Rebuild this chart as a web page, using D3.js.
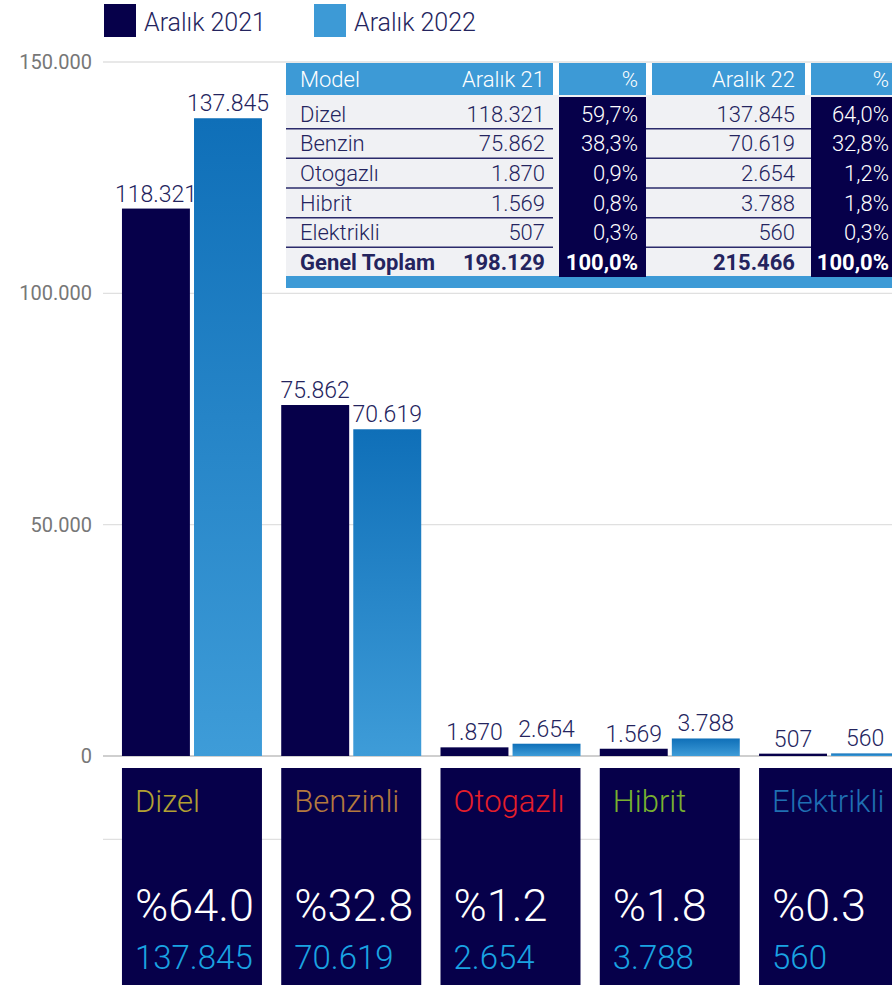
<!DOCTYPE html>
<html>
<head>
<meta charset="utf-8">
<script src="https://cdn.jsdelivr.net/npm/d3@7"></script>
<style>
  body { margin: 0; background: #fff; }
  svg { display: block; font-family: Roboto, "Noto Sans", sans-serif; }
</style>
</head>
<body>
<div id="chart"></div>
<script>
// data
var categories = ["Dizel", "Benzinli", "Otogazlı", "Hibrit", "Elektrikli"];
var tableLabels = ["Dizel", "Benzin", "Otogazlı", "Hibrit", "Elektrikli"];
var seriesNames = ["Aralık 2021", "Aralık 2022"];
var values2021 = [118321, 75862, 1870, 1569, 507];
var values2022 = [137845, 70619, 2654, 3788, 560];
var share2021 = [59.7, 38.3, 0.9, 0.8, 0.3];
var share2022 = [64.0, 32.8, 1.2, 1.8, 0.3];
var totals = [198129, 215466];
var totalShare = [100.0, 100.0];
var tableHeader = ["Model", "Aralık 21", "%", "Aralık 22", "%"];
var totalLabel = "Genel Toplam";
var yTicks = [0, 50000, 100000, 150000];
var catColors = ["#b3a032", "#b47a3e", "#e51f2a", "#79b12f", "#1f6fb2"];

var navy = "#06004a", lightBlue = "#3d9ad6", textNavy = "#24245e";

var W = 892, H = 985;
var svg = d3.select("#chart").append("svg").attr("width", W).attr("height", H);

var tr = d3.formatLocale({decimal: ",", thousands: ".", grouping: [3], currency: ["", ""]});
var fmtNum = tr.format(",d");
var fmtPct = tr.format(".1f");

// scales
var y = d3.scaleLinear().domain([0, 150000]).range([756, 62]);
var x0 = d3.scaleBand().domain(categories).range([112.4, 908.6]).paddingInner(0.121).paddingOuter(0.06);
var x1 = d3.scaleBand().domain(seriesNames).range([0, x0.bandwidth()]).paddingInner(0.057);

var defs = svg.append("defs");
var grad = defs.append("linearGradient").attr("id", "g22")
    .attr("x1", 0).attr("y1", 0).attr("x2", 0).attr("y2", 1);
grad.append("stop").attr("offset", "0%").attr("stop-color", "#0f6fb8");
grad.append("stop").attr("offset", "100%").attr("stop-color", "#3e9cd8");

// grid
var grid = svg.append("g");
grid.selectAll("line").data(yTicks.concat([-18000])).enter().append("line")
    .attr("x1", 103).attr("x2", W)
    .attr("y1", function(d) { return y(d); })
    .attr("y2", function(d) { return y(d); })
    .style("stroke", function(d) { return d === 0 ? "#cfcfcf" : "#e0e0e0"; })
    .style("stroke-width", function(d) { return d === 0 ? 2 : 1.3; });

svg.append("g").selectAll("text").data(yTicks).enter().append("text")
    .attr("x", 92).attr("y", function(d) { return y(d); })
    .attr("dy", "0.35em").attr("text-anchor", "end")
    .style("font-size", "20px").style("fill", "#777")
    .text(function(d) { return fmtNum(d); });

// bars
var rows = categories.map(function(c, i) {
    return {cat: c, vals: [values2021[i], values2022[i]]};
});
var groups = svg.append("g").selectAll("g").data(rows).enter().append("g")
    .attr("transform", function(d) { return "translate(" + x0(d.cat) + ",0)"; });

var bars = groups.selectAll("g.bar").data(function(d) {
    return d.vals.map(function(v, j) { return {s: seriesNames[j], v: v, j: j}; });
}).enter().append("g").attr("class", "bar");

bars.append("rect")
    .attr("x", function(d) { return x1(d.s); })
    .attr("width", x1.bandwidth())
    .attr("y", function(d) { return y(d.v); })
    .attr("height", function(d) { return y(0) - y(d.v); })
    .style("fill", function(d) { return d.j === 0 ? navy : "url(#g22)"; });

bars.append("text")
    .attr("x", function(d) { return x1(d.s) + x1.bandwidth() / 2; })
    .attr("y", function(d) { return y(d.v) - 7; })
    .attr("text-anchor", "middle")
    .style("font-size", "23px").style("font-weight", 300).style("fill", textNavy)
    .text(function(d) { return fmtNum(d.v); });

// bottom boxes
var boxes = svg.append("g").selectAll("g").data(categories).enter().append("g")
    .attr("transform", function(d) { return "translate(" + x0(d) + ",768)"; });
boxes.append("rect").attr("width", x0.bandwidth()).attr("height", 230).style("fill", navy);
boxes.append("text").attr("x", 13).attr("y", 44)
    .style("font-size", "31px").style("font-weight", 300)
    .style("fill", function(d, i) { return catColors[i]; })
    .text(function(d) { return d; });
boxes.append("text").attr("x", 13).attr("y", 153)
    .style("font-size", "45px").style("font-weight", 300).style("fill", "#fff")
    .text(function(d, i) { return "%" + share2022[i].toFixed(1); });
boxes.append("text").attr("x", 13).attr("y", 201)
    .style("font-size", "33px").style("font-weight", 300).style("fill", "#1aa3e2")
    .text(function(d, i) { return fmtNum(values2022[i]); });

// legend
var legend = svg.append("g").selectAll("g").data(seriesNames).enter().append("g")
    .attr("transform", function(d, i) { return "translate(" + (104 + i * 210) + ",4)"; });
legend.append("rect").attr("width", 32).attr("height", 33)
    .style("fill", function(d, i) { return i === 0 ? navy : lightBlue; });
legend.append("text").attr("x", 40).attr("y", 27)
    .style("font-size", "25px").style("font-weight", 300).style("fill", textNavy)
    .text(function(d) { return d; });

// table
var tbl = svg.append("g");
var cols = [
    {x: 286, w: 267, anchor: "start", tx: 300},
    {x: 286, w: 267, anchor: "end", tx: 545},
    {x: 559, w: 87, anchor: "end", tx: 638, dark: true},
    {x: 652, w: 153, anchor: "end", tx: 795},
    {x: 811, w: 90, anchor: "end", tx: 889, dark: true}
];
var tableRows = tableLabels.map(function(l, i) {
    return [l, fmtNum(values2021[i]), fmtPct(share2021[i]) + "%", fmtNum(values2022[i]), fmtPct(share2022[i]) + "%"];
});
tableRows.push([totalLabel, fmtNum(totals[0]), fmtPct(totalShare[0]) + "%", fmtNum(totals[1]), fmtPct(totalShare[1]) + "%"]);
var ry = d3.scaleBand().domain(d3.range(tableRows.length)).range([99, 277]);

tbl.append("rect").attr("x", 286).attr("y", 95).attr("width", W - 286).attr("height", 182).style("fill", "#f0f1f4");
tbl.append("rect").attr("x", 286).attr("y", 276).attr("width", W - 286).attr("height", 12).style("fill", lightBlue);
[0, 2, 3, 4].forEach(function(k) {
    var c = cols[k];
    tbl.append("rect").attr("x", c.x).attr("y", 63).attr("width", c.w).attr("height", 32).style("fill", lightBlue);
    if (c.dark) tbl.append("rect").attr("x", c.x).attr("y", 97).attr("width", c.w).attr("height", 180).style("fill", navy);
});
// row separators
tbl.append("g").selectAll("line").data(d3.range(tableRows.length - 1)).enter().append("g")
    .each(function(i) {
        var g = d3.select(this), yy = ry(i) + ry.bandwidth();
        [[286, 553], [646, 811]].forEach(function(s) {
            g.append("line").attr("x1", s[0]).attr("x2", s[1]).attr("y1", yy).attr("y2", yy)
                .style("stroke", "#2b2b6b").style("stroke-width", 1.5);
        });
    });
tbl.append("g").selectAll("text").data(tableHeader).enter().append("text")
    .attr("x", function(d, i) { return cols[i].tx; })
    .attr("y", 79).attr("dy", "0.35em")
    .attr("text-anchor", function(d, i) { return cols[i].anchor; })
    .style("font-size", "22px").style("font-weight", 300).style("fill", "#fff")
    .text(function(d) { return d; });
tbl.append("g").selectAll("g").data(tableRows).enter().append("g")
    .each(function(r, i) {
        var last = i === tableRows.length - 1;
        d3.select(this).selectAll("text").data(r).enter().append("text")
            .attr("x", function(d, k) { return cols[k].tx; })
            .attr("y", ry(i) + ry.bandwidth() / 2).attr("dy", "0.35em")
            .attr("text-anchor", function(d, k) { return cols[k].anchor; })
            .style("font-size", "22px")
            .style("font-weight", last ? 700 : 300)
            .style("fill", function(d, k) { return cols[k].dark ? "#fff" : textNavy; })
            .text(function(d) { return d; });
    });
</script>
</body>
</html>
